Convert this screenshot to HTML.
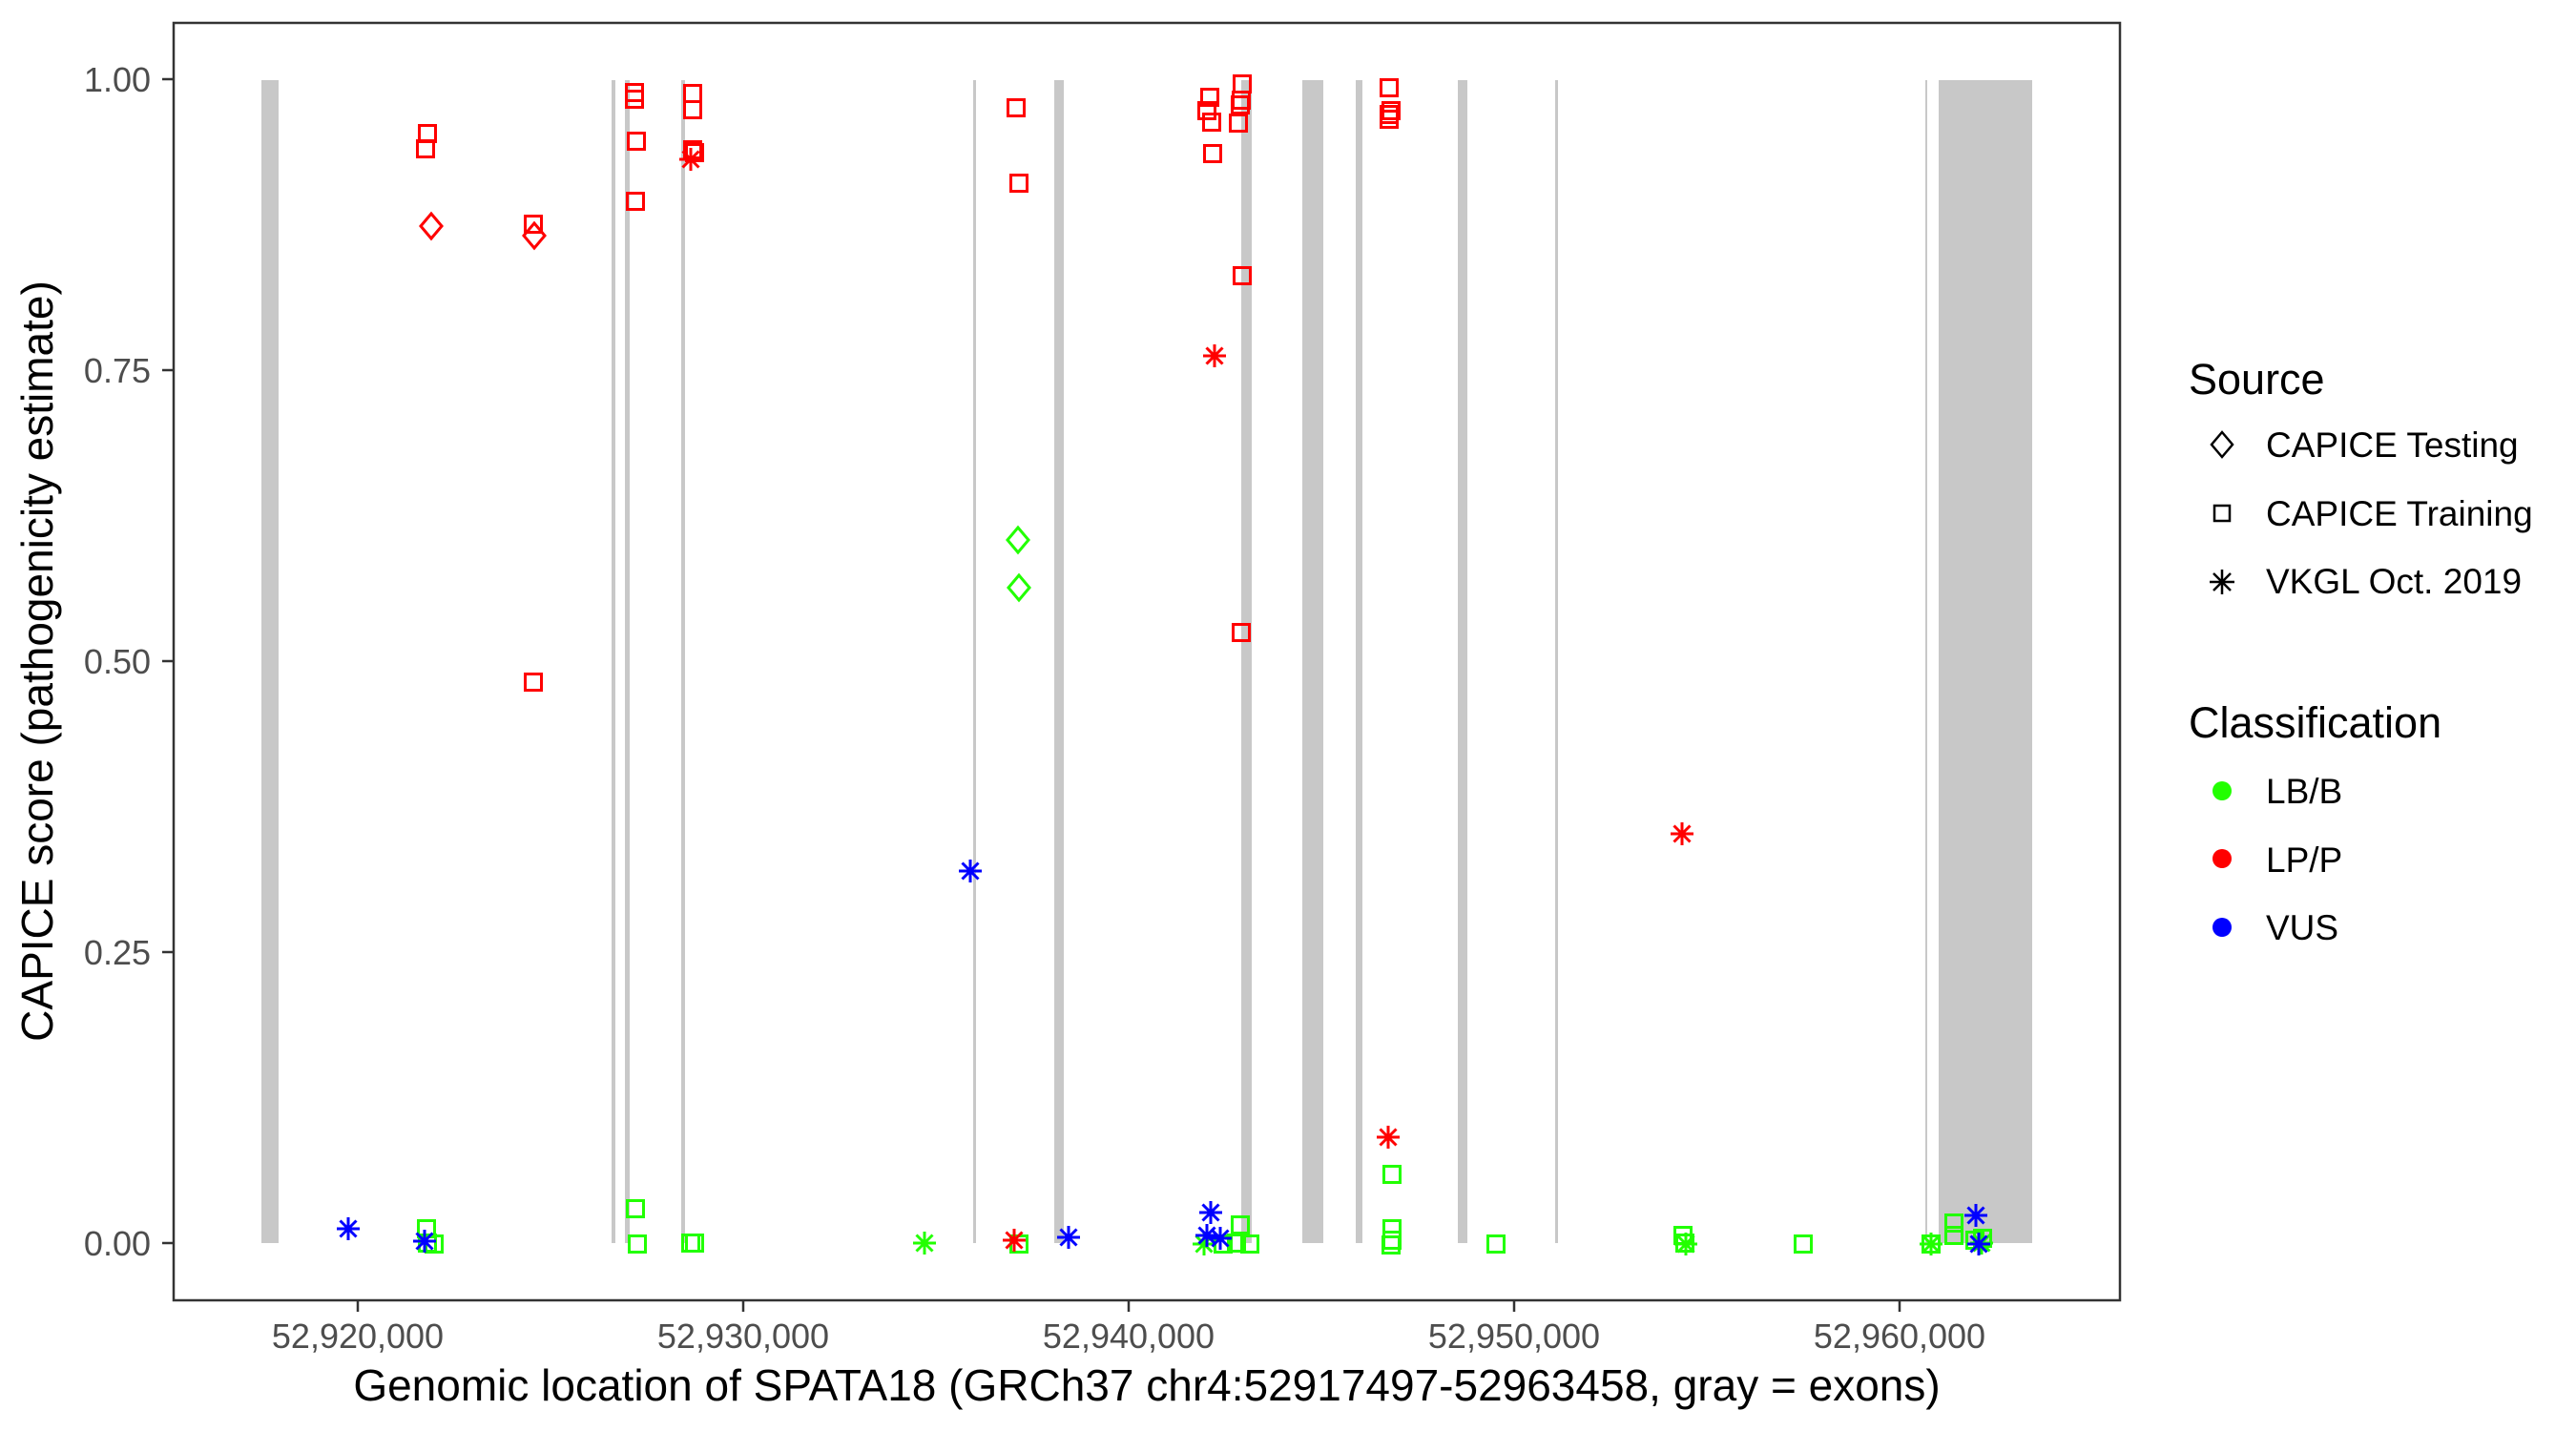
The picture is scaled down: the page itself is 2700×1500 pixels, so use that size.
<!DOCTYPE html>
<html><head><meta charset="utf-8"><style>
html,body{margin:0;padding:0;background:#fff}
svg{display:block}
text{font-family:"Liberation Sans",Arial,sans-serif}
</style></head><body>
<svg width="2700" height="1500" viewBox="0 0 2700 1500" xmlns="http://www.w3.org/2000/svg">
<defs>
<rect id="sq" x="-8.5" y="-8.5" width="17" height="17" fill="none" stroke-width="3"/>
<polygon id="dm" points="0,-13 11,0 0,13 -11,0" fill="none" stroke-width="3"/>
<path id="as" d="M0,-12V12M-12,0H12M-8.5,-8.5L8.5,8.5M-8.5,8.5L8.5,-8.5" fill="none" stroke-width="3"/>
</defs>
<rect width="2700" height="1500" fill="#fff"/>
<g fill="#c8c8c8">
<rect x="274" y="84" width="18" height="1219"/>
<rect x="641" y="84" width="4" height="1219"/>
<rect x="655" y="84" width="5" height="1219"/>
<rect x="714" y="84" width="4" height="1219"/>
<rect x="1020" y="84" width="3" height="1219"/>
<rect x="1105" y="84" width="10" height="1219"/>
<rect x="1301" y="84" width="11" height="1219"/>
<rect x="1365" y="84" width="22" height="1219"/>
<rect x="1421" y="84" width="7" height="1219"/>
<rect x="1528" y="84" width="10" height="1219"/>
<rect x="1630" y="84" width="3" height="1219"/>
<rect x="2018" y="84" width="2" height="1219"/>
<rect x="2032" y="84" width="98" height="1219"/>
</g>
<g stroke="#ff0000">
<use href="#sq" x="448" y="140"/><use href="#sq" x="446" y="156"/>
<use href="#dm" x="452" y="237"/><use href="#sq" x="559" y="235"/><use href="#dm" x="560" y="247"/>
<use href="#sq" x="665" y="97"/><use href="#sq" x="665" y="104"/><use href="#sq" x="667" y="148"/><use href="#sq" x="666" y="211"/>
<use href="#sq" x="726" y="98"/><use href="#sq" x="726" y="115"/><use href="#sq" x="726" y="157"/><use href="#sq" x="728" y="160"/>
<use href="#as" x="724" y="167"/>
<use href="#sq" x="559" y="715"/>
<use href="#sq" x="1065" y="113"/><use href="#sq" x="1068" y="192"/>
<use href="#sq" x="1268" y="102"/><use href="#sq" x="1265" y="116"/><use href="#sq" x="1270" y="128"/><use href="#sq" x="1271" y="161"/>
<use href="#sq" x="1302" y="88"/><use href="#sq" x="1301" y="105"/><use href="#sq" x="1300" y="110"/><use href="#sq" x="1298" y="129"/>
<use href="#sq" x="1302" y="289"/><use href="#as" x="1273" y="373"/><use href="#sq" x="1301" y="663"/>
<use href="#sq" x="1456" y="92"/><use href="#sq" x="1458" y="116"/><use href="#sq" x="1456" y="120"/><use href="#sq" x="1456" y="125"/>
<use href="#as" x="1763" y="874"/><use href="#as" x="1455" y="1192"/>
</g>
<g stroke="#22ff00">
<use href="#dm" x="1067" y="566"/><use href="#dm" x="1068" y="616"/>
<use href="#sq" x="447" y="1288"/><use href="#sq" x="448" y="1303"/><use href="#sq" x="455" y="1304"/>
<use href="#sq" x="666" y="1267"/><use href="#sq" x="668" y="1304"/><use href="#sq" x="728" y="1303"/><use href="#sq" x="724" y="1303"/>
<use href="#sq" x="1459" y="1231"/><use href="#as" x="969" y="1303"/><use href="#sq" x="1068" y="1304"/>
<use href="#as" x="1262" y="1304"/><use href="#sq" x="1300" y="1284"/><use href="#sq" x="1296" y="1303"/><use href="#sq" x="1310" y="1304"/><use href="#sq" x="1282" y="1304"/>
<use href="#sq" x="1459" y="1288"/><use href="#sq" x="1459" y="1300"/><use href="#sq" x="1458" y="1305"/>
<use href="#sq" x="1568" y="1304"/><use href="#sq" x="1764" y="1295"/><use href="#sq" x="1766" y="1303"/><use href="#as" x="1767" y="1304"/>
<use href="#sq" x="1890" y="1304"/><use href="#sq" x="2024" y="1304"/><use href="#as" x="2024" y="1304"/>
<use href="#sq" x="2048" y="1282"/><use href="#sq" x="2048" y="1295"/>
<use href="#sq" x="2070" y="1300"/><use href="#sq" x="2078" y="1298"/><use href="#as" x="2077" y="1303"/>
</g>
<g stroke="#ff0000"><use href="#as" x="1063" y="1300"/></g>
<g stroke="#0000ff">
<use href="#as" x="365" y="1288"/><use href="#as" x="445" y="1301"/>
<use href="#as" x="1017" y="913"/><use href="#as" x="1120" y="1297"/>
<use href="#as" x="1269" y="1271"/><use href="#as" x="1265" y="1295"/><use href="#as" x="1279" y="1298"/>
<use href="#as" x="2071" y="1274"/><use href="#as" x="2074" y="1304"/>
</g>
<rect x="182" y="24" width="2040" height="1339" fill="none" stroke="#333" stroke-width="2.5"/>
<g stroke="#333" stroke-width="2.5">
<line x1="170" x2="182" y1="83" y2="83"/><line x1="170" x2="182" y1="388" y2="388"/>
<line x1="170" x2="182" y1="693" y2="693"/><line x1="170" x2="182" y1="998" y2="998"/>
<line x1="170" x2="182" y1="1303" y2="1303"/>
<line x1="375" x2="375" y1="1363" y2="1375"/><line x1="779" x2="779" y1="1363" y2="1375"/>
<line x1="1183" x2="1183" y1="1363" y2="1375"/><line x1="1587" x2="1587" y1="1363" y2="1375"/>
<line x1="1991" x2="1991" y1="1363" y2="1375"/>
</g>
<g font-size="36" fill="#4d4d4d" text-anchor="end">
<text x="158" y="96">1.00</text><text x="158" y="401">0.75</text>
<text x="158" y="706">0.50</text><text x="158" y="1011">0.25</text><text x="158" y="1316">0.00</text>
</g>
<g font-size="36" fill="#4d4d4d" text-anchor="middle">
<text x="375" y="1413">52,920,000</text><text x="779" y="1413">52,930,000</text>
<text x="1183" y="1413">52,940,000</text><text x="1587" y="1413">52,950,000</text>
<text x="1991" y="1413">52,960,000</text>
</g>
<text x="1202" y="1468" font-size="46" text-anchor="middle" fill="#000">Genomic location of SPATA18 (GRCh37 chr4:52917497-52963458, gray = exons)</text>
<text transform="translate(55,693) rotate(-90)" font-size="46" text-anchor="middle" fill="#000">CAPICE score (pathogenicity estimate)</text>
<text x="2294" y="413" font-size="45">Source</text>
<g stroke="#000">
<polygon points="2329,453 2340,466 2329,479 2318,466" fill="none" stroke-width="2.5"/>
<rect x="2321" y="530" width="16" height="16" fill="none" stroke-width="2.5"/>
<path d="M2329,597V623M2316,610H2342M2320,601L2338,619M2320,619L2338,601" fill="none" stroke-width="2.5"/>
</g>
<g font-size="37" fill="#000">
<text x="2375" y="479">CAPICE Testing</text>
<text x="2375" y="551">CAPICE Training</text>
<text x="2375" y="622">VKGL Oct. 2019</text>
</g>
<text x="2294" y="773" font-size="45">Classification</text>
<circle cx="2329" cy="829" r="10" fill="#22ff00"/>
<circle cx="2329" cy="900" r="10" fill="#ff0000"/>
<circle cx="2329" cy="972" r="10" fill="#0000ff"/>
<g font-size="37" fill="#000">
<text x="2375" y="842">LB/B</text>
<text x="2375" y="914">LP/P</text>
<text x="2375" y="985">VUS</text>
</g>
</svg>
</body></html>
